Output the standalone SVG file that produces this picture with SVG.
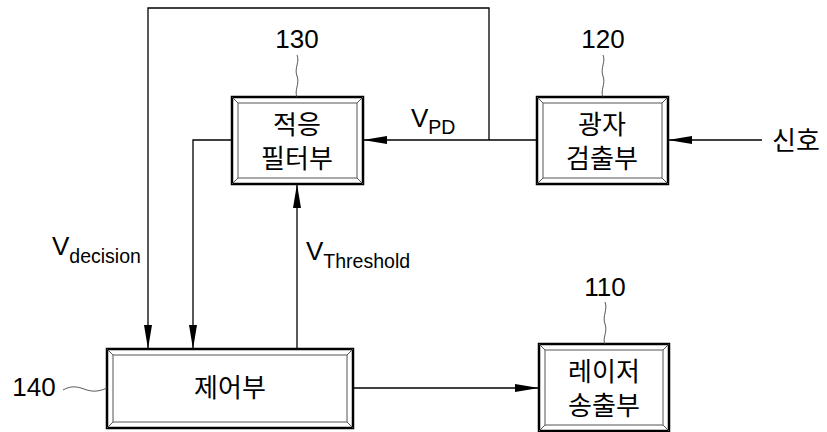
<svg xmlns="http://www.w3.org/2000/svg" width="827" height="432" viewBox="0 0 827 432">
  <style>
    .outer { fill: #fff; stroke: #000; stroke-width: 2.5; }
    .inner { fill: none; stroke: #555; stroke-width: 1; }
    .bevel { stroke: #555; stroke-width: 1; }
    .wire { fill: none; stroke: #000; stroke-width: 1.3; }
    .lead { fill: none; stroke: #444; stroke-width: 0.9; }
    .kr { font-family: "Noto Sans CJK KR", "Liberation Sans", sans-serif; font-size: 26px; fill: #000; text-anchor: middle; }
    .num { font-family: "Liberation Sans", Arial, sans-serif; font-size: 26px; fill: #000; text-anchor: middle; }
    .lbl { font-family: "Liberation Sans", Arial, sans-serif; font-size: 26px; fill: #000; }
    .sub { font-size: 19.5px; }
  </style>
  <defs>
    <marker id="arrow" viewBox="0 0 24 8" refX="24" refY="4" markerWidth="24" markerHeight="8" markerUnits="userSpaceOnUse" orient="auto">
      <path d="M0,0 L24,4 L0,8 Z" fill="#000"/>
    </marker>
  </defs>

  <!-- connectors -->
  <g id="connectors">
    <!-- detector output to adaptive filter -->
    <path class="wire" d="M537,140 L363,140" marker-end="url(#arrow)"/>
    <!-- signal input -->
    <path class="wire" d="M762,140 L668,140" marker-end="url(#arrow)"/>
    <!-- V_PD branch over the top into the controller -->
    <path class="wire" d="M489,140 L489,8 L148,8 L148,349" marker-end="url(#arrow)"/>
    <!-- filter output (V_decision) to controller -->
    <path class="wire" d="M232,140 L193,140 L193,349" marker-end="url(#arrow)"/>
    <!-- threshold from controller to filter -->
    <path class="wire" d="M297,349 L297,184" marker-end="url(#arrow)"/>
    <!-- controller to laser transmitter -->
    <path class="wire" d="M353,388 L539,388" marker-end="url(#arrow)"/>
  </g>

  <!-- signal labels -->
  <text class="lbl" x="411" y="127">V<tspan class="sub" dy="7">PD</tspan></text>
  <text class="lbl" x="52" y="255">V<tspan class="sub" dy="8">decision</tspan></text>
  <text class="lbl" x="306" y="260">V<tspan class="sub" dy="8">Threshold</tspan></text>
  <text class="kr" x="796" y="150">신호</text>

  <!-- adaptive filter -->
  <g id="node-130">
    <rect class="outer" x="232" y="97" width="131" height="87"/>
    <rect class="inner" x="238" y="103" width="119" height="75"/>
    <path class="bevel" d="M232,97 L238,103 M363,97 L357,103 M232,184 L238,178 M363,184 L357,178"/>
    <text class="kr" x="297" y="134">적응</text>
    <text class="kr" x="297" y="168">필터부</text>
    <text class="num" x="297" y="48">130</text>
    <path class="lead" d="M297,55 C300,62 294,68 297,76 C300,84 294,90 297,97"/>
  </g>

  <!-- photodetector -->
  <g id="node-120">
    <rect class="outer" x="537" y="97" width="131" height="87"/>
    <rect class="inner" x="543" y="103" width="119" height="75"/>
    <path class="bevel" d="M537,97 L543,103 M668,97 L662,103 M537,184 L543,178 M668,184 L662,178"/>
    <text class="kr" x="602" y="134">광자</text>
    <text class="kr" x="602" y="168">검출부</text>
    <text class="num" x="603" y="48">120</text>
    <path class="lead" d="M603,55 C606,62 600,68 603,76 C606,84 600,90 603,97"/>
  </g>

  <!-- controller -->
  <g id="node-140">
    <rect class="outer" x="107" y="349" width="246" height="79"/>
    <rect class="inner" x="113" y="355" width="234" height="67"/>
    <path class="bevel" d="M107,349 L113,355 M353,349 L347,355 M107,428 L113,422 M353,428 L347,422"/>
    <text class="kr" x="230" y="397">제어부</text>
    <text class="num" x="34" y="396">140</text>
    <path class="lead" d="M63,390 C70,386 76,386 84,389 C92,392 98,392 107,388"/>
  </g>

  <!-- laser transmitter -->
  <g id="node-110">
    <rect class="outer" x="539" y="344" width="130" height="87"/>
    <rect class="inner" x="545" y="350" width="118" height="75"/>
    <path class="bevel" d="M539,344 L545,350 M669,344 L663,350 M539,431 L545,425 M669,431 L663,425"/>
    <text class="kr" x="604" y="381">레이저</text>
    <text class="kr" x="604" y="415">송출부</text>
    <text class="num" x="605" y="296">110</text>
    <path class="lead" d="M605,302 C608,310 602,316 605,324 C608,332 602,338 605,344"/>
  </g>
</svg>
